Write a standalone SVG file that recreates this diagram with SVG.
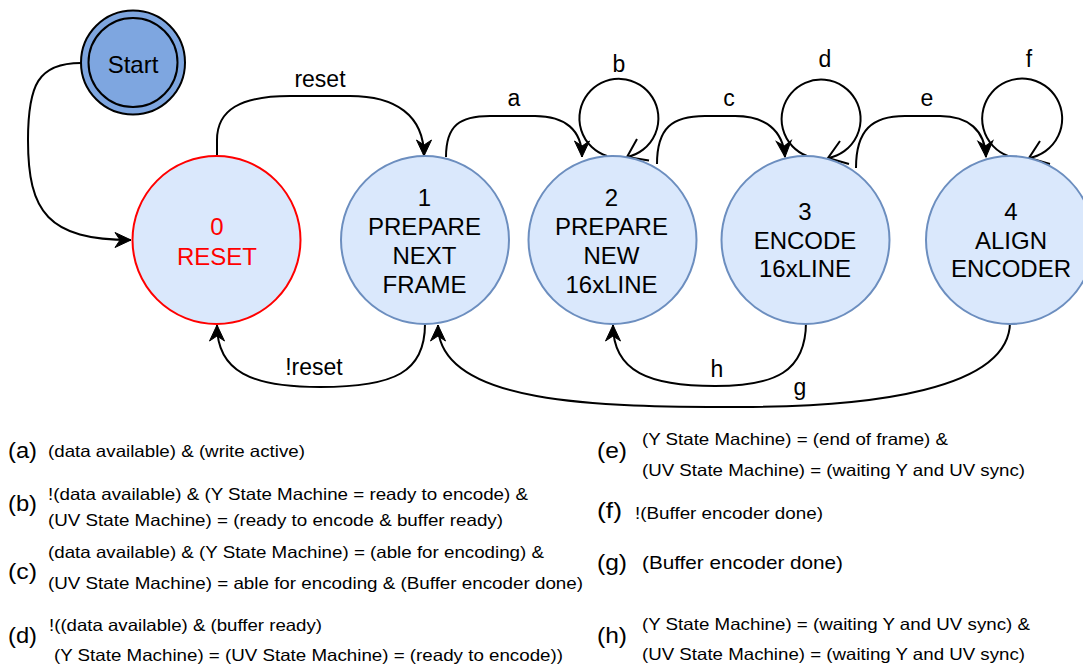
<svg xmlns="http://www.w3.org/2000/svg" width="1083" height="666" viewBox="0 0 1083 666">
<style>
text{font-family:"Liberation Sans",Arial,Helvetica,sans-serif;fill:#000}
.node{fill:#DAE8FC;stroke:#6C8EBF;stroke-width:2}
.nt{font-size:24px;text-anchor:middle}
.el{font-size:23px;text-anchor:middle}
.edge{fill:none;stroke:#000;stroke-width:2}
.open{fill:none;stroke:#000;stroke-width:2;stroke-linejoin:miter}
.lab{font-size:22px}
.cond{font-size:16.5px}
</style>
<defs>
<marker id="arr" markerUnits="userSpaceOnUse" markerWidth="20" markerHeight="20" viewBox="-18 -10 20 20" refX="0" refY="0" orient="auto">
<path d="M0,0 L-16,-7.5 L-11,0 L-16,7.5 Z" fill="#000" stroke="#000" stroke-width="1" stroke-linejoin="miter"/>
</marker>
</defs>

<g id="connectors">
<path class="edge" d="M81,63 C38,63 28,85 28,140 C28,212 48,240 131,240" marker-end="url(#arr)"/>
<path class="edge" d="M217,157 L217,140 C217,110 240,96 290,96 L350,96 C395,96 424,115 424,156" marker-end="url(#arr)"/>
<text class="el" x="320" y="87">reset</text>
<path class="edge" d="M446,157 C446,125 460,116 490,116 L535,116 C565,116 582,130 582,157" marker-end="url(#arr)"/>
<text class="el" x="514" y="106">a</text>
<path class="edge" d="M607,156 A39.5,39.5 0 1 1 627,157"/>
<path class="open" d="M637,139 L627,157 L649,160.5"/>
<text class="el" x="619" y="72">b</text>
<path class="edge" d="M657,164 C657,128 672,116 705,116 L735,116 C765,116 783,130 785,157" marker-end="url(#arr)"/>
<text class="el" x="729" y="106">c</text>
<path class="edge" d="M807,156 A39.5,39.5 0 1 1 828,158"/>
<path class="open" d="M840,141 L828,158 L849,164"/>
<text class="el" x="825" y="67">d</text>
<path class="edge" d="M856,168 C856,130 872,116 905,116 L940,116 C968,116 985,130 986,157" marker-end="url(#arr)"/>
<text class="el" x="927" y="106">e</text>
<path class="edge" d="M1008,156 A40,40 0 1 1 1029,158"/>
<path class="open" d="M1040,141 L1029,158 L1050,164"/>
<text class="el" x="1029" y="67">f</text>
<path class="edge" d="M425,324 C425,372 395,387 320,387 C252,387 217,372 217,325" marker-end="url(#arr)"/>
<text class="el" x="314" y="375">!reset</text>
<path class="edge" d="M806,322 C806,372 775,386 715,386 C650,386 613,372 613,325" marker-end="url(#arr)"/>
<text class="el" x="717" y="377">h</text>
<path class="edge" d="M1010,322 C1010,390 870,407 740,407 C600,407 438,405 438,325" marker-end="url(#arr)"/>
<text class="el" x="800" y="395">g</text>
</g>

<g id="start">
<circle cx="133" cy="62.5" r="52" fill="#7EA6E0" stroke="#000" stroke-width="2"/>
<circle cx="133" cy="62.5" r="44.5" fill="none" stroke="#000" stroke-width="2"/>
<text class="nt" x="133" y="73">Start</text>
</g>

<g id="state0">
<circle cx="216.5" cy="240" r="84" fill="#DAE8FC" stroke="#FF0000" stroke-width="2"/>
<text class="nt" x="217" y="235" style="fill:#FF0000">0</text>
<text class="nt" x="217" y="264.5" style="fill:#FF0000">RESET</text>
</g>

<g id="state1">
<circle class="node" cx="425" cy="240" r="84"/>
<text class="nt" x="424.5" y="206">1</text>
<text class="nt" x="424.5" y="235">PREPARE</text>
<text class="nt" x="424.5" y="264">NEXT</text>
<text class="nt" x="424.5" y="293">FRAME</text>
</g>

<g id="state2">
<circle class="node" cx="612.5" cy="240" r="84"/>
<text class="nt" x="611.5" y="206">2</text>
<text class="nt" x="611.5" y="235">PREPARE</text>
<text class="nt" x="611.5" y="264">NEW</text>
<text class="nt" x="611.5" y="293">16xLINE</text>
</g>

<g id="state3">
<circle class="node" cx="805.5" cy="240" r="84"/>
<text class="nt" x="805" y="219.5">3</text>
<text class="nt" x="805" y="248.5">ENCODE</text>
<text class="nt" x="805" y="277">16xLINE</text>
</g>

<g id="state4">
<circle class="node" cx="1010" cy="240" r="84"/>
<text class="nt" x="1011" y="219.5">4</text>
<text class="nt" x="1011" y="248.5">ALIGN</text>
<text class="nt" x="1011" y="277">ENCODER</text>
</g>

<g id="legend">
<text class="lab" x="8" y="458" textLength="29" lengthAdjust="spacingAndGlyphs">(a)</text>
<text class="cond" x="48" y="457" textLength="257" lengthAdjust="spacingAndGlyphs">(data available) &amp; (write active)</text>

<text class="lab" x="8" y="511" textLength="29" lengthAdjust="spacingAndGlyphs">(b)</text>
<text class="cond" x="48" y="500" textLength="480" lengthAdjust="spacingAndGlyphs">!(data available) &amp; (Y State Machine = ready to encode) &amp;</text>
<text class="cond" x="48" y="526" textLength="455" lengthAdjust="spacingAndGlyphs">(UV State Machine) = (ready to encode &amp; buffer ready)</text>

<text class="lab" x="8" y="579" textLength="29" lengthAdjust="spacingAndGlyphs">(c)</text>
<text class="cond" x="48" y="558" textLength="496" lengthAdjust="spacingAndGlyphs">(data available) &amp; (Y State Machine) = (able for encoding) &amp;</text>
<text class="cond" x="48" y="589" textLength="535" lengthAdjust="spacingAndGlyphs">(UV State Machine) = able for encoding &amp; (Buffer encoder done)</text>

<text class="lab" x="8" y="643" textLength="29" lengthAdjust="spacingAndGlyphs">(d)</text>
<text class="cond" x="49" y="631" textLength="273" lengthAdjust="spacingAndGlyphs">!((data available) &amp; (buffer ready)</text>
<text class="cond" x="54" y="661" textLength="509" lengthAdjust="spacingAndGlyphs">(Y State Machine) = (UV State Machine) = (ready to encode))</text>

<text class="lab" x="597" y="458" textLength="30" lengthAdjust="spacingAndGlyphs">(e)</text>
<text class="cond" x="642" y="445" textLength="306" lengthAdjust="spacingAndGlyphs">(Y State Machine) = (end of frame) &amp;</text>
<text class="cond" x="642" y="476" textLength="383" lengthAdjust="spacingAndGlyphs">(UV State Machine) = (waiting Y and UV sync)</text>

<text class="lab" x="597" y="518" textLength="25" lengthAdjust="spacingAndGlyphs">(f)</text>
<text class="cond" x="635" y="518.5" textLength="188" lengthAdjust="spacingAndGlyphs">!(Buffer encoder done)</text>

<text class="lab" x="597" y="570" textLength="30" lengthAdjust="spacingAndGlyphs">(g)</text>
<text class="cond" x="642" y="569" style="font-size:18.5px" textLength="201" lengthAdjust="spacingAndGlyphs">(Buffer encoder done)</text>

<text class="lab" x="597" y="643" textLength="30" lengthAdjust="spacingAndGlyphs">(h)</text>
<text class="cond" x="642" y="630" textLength="388" lengthAdjust="spacingAndGlyphs">(Y State Machine) = (waiting Y and UV sync) &amp;</text>
<text class="cond" x="642" y="660" textLength="383" lengthAdjust="spacingAndGlyphs">(UV State Machine) = (waiting Y and UV sync)</text>
</g>
</svg>
